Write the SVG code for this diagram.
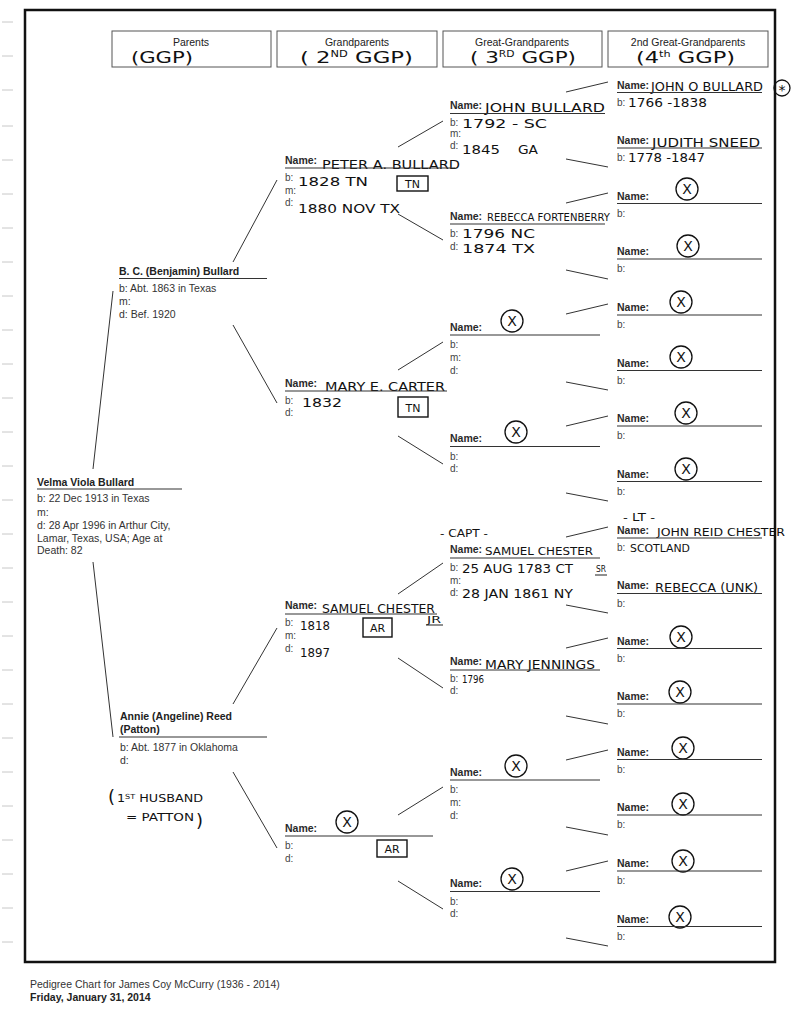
<svg xmlns="http://www.w3.org/2000/svg" width="791" height="1024" viewBox="0 0 791 1024">
<style>
text{font-family:"Liberation Sans",Arial,sans-serif}
.p{font-size:10.5px;fill:#333}
.pb{font-size:10.5px;fill:#222;font-weight:bold}
.nm{font-size:10.5px;fill:#2a2a2a;font-weight:bold}
.l{font-size:10px;fill:#444}
.hd{font-size:10.5px;fill:#222;text-anchor:middle}
.h{font-family:"DejaVu Sans","Liberation Sans",sans-serif;fill:#111}
.ln{stroke:#333;stroke-width:1.1;fill:none}
.cn{stroke:#333;stroke-width:1;fill:none}
.box{fill:#fff;stroke:#555;stroke-width:1}
.hb{fill:none;stroke:#111;stroke-width:1.4}
.cx{fill:none;stroke:#111;stroke-width:1.3}
.xm{font-family:"DejaVu Sans",sans-serif;font-size:14px;fill:#111;text-anchor:middle}
.tk{stroke:#c8c8c8;stroke-width:1}
</style>
<rect width="791" height="1024" fill="#fff"/>
<g id="margin-ticks">
<line class="tk" x1="2" y1="22" x2="13" y2="22"/><line class="tk" x1="2" y1="56" x2="13" y2="56"/><line class="tk" x1="2" y1="90" x2="13" y2="90"/><line class="tk" x1="2" y1="126" x2="13" y2="126"/><line class="tk" x1="2" y1="160" x2="13" y2="160"/><line class="tk" x1="2" y1="194" x2="13" y2="194"/><line class="tk" x1="2" y1="228" x2="13" y2="228"/><line class="tk" x1="2" y1="262" x2="13" y2="262"/><line class="tk" x1="2" y1="296" x2="13" y2="296"/><line class="tk" x1="2" y1="330" x2="13" y2="330"/><line class="tk" x1="2" y1="364" x2="13" y2="364"/><line class="tk" x1="2" y1="398" x2="13" y2="398"/><line class="tk" x1="2" y1="432" x2="13" y2="432"/><line class="tk" x1="2" y1="466" x2="13" y2="466"/><line class="tk" x1="2" y1="500" x2="13" y2="500"/><line class="tk" x1="2" y1="534" x2="13" y2="534"/><line class="tk" x1="2" y1="568" x2="13" y2="568"/><line class="tk" x1="2" y1="602" x2="13" y2="602"/><line class="tk" x1="2" y1="636" x2="13" y2="636"/><line class="tk" x1="2" y1="670" x2="13" y2="670"/><line class="tk" x1="2" y1="704" x2="13" y2="704"/><line class="tk" x1="2" y1="738" x2="13" y2="738"/><line class="tk" x1="2" y1="772" x2="13" y2="772"/><line class="tk" x1="2" y1="806" x2="13" y2="806"/><line class="tk" x1="2" y1="840" x2="13" y2="840"/><line class="tk" x1="2" y1="874" x2="13" y2="874"/><line class="tk" x1="2" y1="908" x2="13" y2="908"/><line class="tk" x1="2" y1="942" x2="13" y2="942"/>
</g>
<rect x="25" y="10" width="750" height="952" fill="none" stroke="#111" stroke-width="2.5"/>

<g id="headers">
<rect class="box" x="112" y="31" width="159" height="36"/>
<text class="hd" x="191" y="46">Parents</text>
<text class="h" x="131" y="63" font-size="16" textLength="62" lengthAdjust="spacingAndGlyphs">(GGP)</text>
<rect class="box" x="277" y="31" width="160" height="36"/>
<text class="hd" x="357" y="46">Grandparents</text>
<text class="h" x="300" y="63" font-size="16" textLength="113" lengthAdjust="spacingAndGlyphs">( 2<tspan font-size="8" dy="-6">ND</tspan><tspan dy="6"> GGP)</tspan></text>
<rect class="box" x="443" y="31" width="159" height="36"/>
<text class="hd" x="522" y="46">Great-Grandparents</text>
<text class="h" x="470" y="63" font-size="16" textLength="106" lengthAdjust="spacingAndGlyphs">( 3<tspan font-size="8" dy="-6">RD</tspan><tspan dy="6"> GGP)</tspan></text>
<rect class="box" x="608" y="31" width="160" height="36"/>
<text class="hd" x="688" y="46">2nd Great-Grandparents</text>
<text class="h" x="636" y="63" font-size="16" textLength="99" lengthAdjust="spacingAndGlyphs">(4<tspan font-size="8" dy="-6">th</tspan><tspan dy="6"> GGP)</tspan></text>
</g>

<g id="connectors">
<line class="cn" x1="93" y1="469" x2="113" y2="291"/>
<line class="cn" x1="93" y1="562" x2="113" y2="737"/>
<line class="cn" x1="233" y1="262" x2="277" y2="180"/>
<line class="cn" x1="233" y1="325" x2="277" y2="403"/>
<line class="cn" x1="233" y1="704" x2="277" y2="628"/>
<line class="cn" x1="233" y1="772" x2="277" y2="848"/>
<line class="cn" x1="398" y1="147" x2="443" y2="121"/>
<line class="cn" x1="398" y1="214" x2="443" y2="240"/>
<line class="cn" x1="398" y1="370" x2="443" y2="342"/>
<line class="cn" x1="398" y1="436" x2="443" y2="464"/>
<line class="cn" x1="398" y1="594" x2="443" y2="563"/>
<line class="cn" x1="398" y1="658" x2="443" y2="688"/>
<line class="cn" x1="398" y1="815" x2="443" y2="787"/>
<line class="cn" x1="398" y1="881" x2="443" y2="909"/>
<line class="cn" x1="566" y1="92" x2="608" y2="82"/>
<line class="cn" x1="566" y1="159" x2="608" y2="167"/>
<line class="cn" x1="566" y1="203" x2="608" y2="193"/>
<line class="cn" x1="566" y1="270" x2="608" y2="279"/>
<line class="cn" x1="566" y1="314" x2="608" y2="304"/>
<line class="cn" x1="566" y1="382" x2="608" y2="390"/>
<line class="cn" x1="566" y1="426" x2="608" y2="416"/>
<line class="cn" x1="566" y1="493" x2="608" y2="501"/>
<line class="cn" x1="566" y1="537" x2="608" y2="527"/>
<line class="cn" x1="566" y1="605" x2="608" y2="613"/>
<line class="cn" x1="566" y1="648" x2="608" y2="638"/>
<line class="cn" x1="566" y1="716" x2="608" y2="724"/>
<line class="cn" x1="566" y1="760" x2="608" y2="750"/>
<line class="cn" x1="566" y1="827" x2="608" y2="835"/>
<line class="cn" x1="566" y1="871" x2="608" y2="861"/>
<line class="cn" x1="566" y1="938" x2="608" y2="946"/>
</g>

<g id="velma">
<text class="pb" x="37" y="486">Velma Viola Bullard</text>
<line class="ln" x1="37" y1="489" x2="182" y2="489"/>
<text class="p" x="37" y="502">b: 22 Dec 1913 in Texas</text>
<text class="p" x="37" y="515.5">m:</text>
<text class="p" x="37" y="529">d: 28 Apr 1996 in Arthur City,</text>
<text class="p" x="37" y="541.5">Lamar, Texas, USA; Age at</text>
<text class="p" x="37" y="554">Death: 82</text>
</g>

<g id="bc-bullard">
<text class="pb" x="119" y="275">B. C. (Benjamin) Bullard</text>
<line class="ln" x1="119" y1="278.5" x2="267" y2="278.5"/>
<text class="p" x="119" y="292">b: Abt. 1863 in Texas</text>
<text class="p" x="119" y="305">m:</text>
<text class="p" x="119" y="318">d: Bef. 1920</text>
</g>

<g id="annie-reed">
<text class="pb" x="120" y="720">Annie (Angeline) Reed</text>
<text class="pb" x="120" y="733">(Patton)</text>
<line class="ln" x1="119" y1="737" x2="267" y2="737"/>
<text class="p" x="120" y="751">b: Abt. 1877 in Oklahoma</text>
<text class="p" x="120" y="764" fill="#2f5d6a">d:</text>
<text class="h" x="108" y="803" font-size="18">(</text>
<text class="h" x="117" y="802" font-size="11" textLength="86" lengthAdjust="spacingAndGlyphs">1<tspan font-size="7" dy="-3">ST</tspan><tspan dy="3"> HUSBAND</tspan></text>
<text class="h" x="126" y="821" font-size="11" textLength="68" lengthAdjust="spacingAndGlyphs">= PATTON</text>
<text class="h" x="196" y="827" font-size="18">)</text>
</g>

<g id="peter-bullard">
<text class="nm" x="285" y="163.5">Name:</text>
<text class="h" x="322" y="169" font-size="13" textLength="138" lengthAdjust="spacingAndGlyphs">PETER A. BULLARD</text>
<line class="ln" x1="285" y1="168" x2="455" y2="168"/>
<text class="l" x="285" y="181">b:</text>
<text class="h" x="298" y="186" font-size="13" textLength="70" lengthAdjust="spacingAndGlyphs">1828  TN</text>
<rect class="hb" x="397" y="176" width="31" height="15"/>
<text class="h" x="412.5" y="188" font-size="11" text-anchor="middle">TN</text>
<text class="l" x="285" y="194">m:</text>
<text class="l" x="285" y="206">d:</text>
<text class="h" x="298" y="213" font-size="13" textLength="102" lengthAdjust="spacingAndGlyphs">1880 NOV TX</text>
</g>

<g id="mary-carter">
<text class="nm" x="285" y="386.5">Name:</text>
<text class="h" x="325" y="391" font-size="13" textLength="120" lengthAdjust="spacingAndGlyphs">MARY E. CARTER</text>
<line class="ln" x1="285" y1="391" x2="447" y2="391"/>
<text class="l" x="285" y="404">b:</text>
<text class="h" x="302" y="407" font-size="13" textLength="40" lengthAdjust="spacingAndGlyphs">1832</text>
<rect class="hb" x="398" y="397" width="30" height="20"/>
<text class="h" x="413" y="411.5" font-size="11" text-anchor="middle">TN</text>
<text class="l" x="285" y="416">d:</text>
</g>

<g id="samuel-chester-jr">
<text class="nm" x="285" y="609">Name:</text>
<text class="h" x="322" y="612.5" font-size="12" textLength="113" lengthAdjust="spacingAndGlyphs">SAMUEL CHESTER</text>
<line class="ln" x1="285" y1="614" x2="437" y2="614"/>
<text class="h" x="427" y="623" font-size="8" textLength="14" lengthAdjust="spacingAndGlyphs">JR</text>
<line class="ln" x1="426" y1="625" x2="443" y2="625"/>
<text class="l" x="285" y="626">b:</text>
<text class="h" x="300" y="630" font-size="13" textLength="30" lengthAdjust="spacingAndGlyphs">1818</text>
<rect class="hb" x="363" y="618" width="29" height="19"/>
<text class="h" x="377.5" y="632" font-size="11" text-anchor="middle">AR</text>
<text class="l" x="285" y="639">m:</text>
<text class="l" x="285" y="652">d:</text>
<text class="h" x="300" y="657" font-size="13" textLength="30" lengthAdjust="spacingAndGlyphs">1897</text>
</g>

<g id="unknown-gm">
<text class="nm" x="285" y="831.5">Name:</text>
<circle class="cx" cx="347" cy="822" r="11"/>
<text class="xm" x="347" y="827">X</text>
<line class="ln" x1="285" y1="836" x2="433" y2="836"/>
<rect class="hb" x="377" y="840" width="30" height="17"/>
<text class="h" x="392" y="852.5" font-size="11" text-anchor="middle">AR</text>
<text class="l" x="285" y="849">b:</text>
<text class="l" x="285" y="862">d:</text>
</g>

<g id="john-bullard">
<text class="nm" x="450" y="108.5">Name:</text>
<text class="h" x="485" y="112" font-size="13" textLength="120" lengthAdjust="spacingAndGlyphs">JOHN BULLARD</text>
<line class="ln" x1="450" y1="113.5" x2="605" y2="113.5"/>
<text class="l" x="450" y="126">b:</text>
<text class="h" x="462" y="128" font-size="13" textLength="85" lengthAdjust="spacingAndGlyphs">1792 -  SC</text>
<text class="l" x="450" y="137">m:</text>
<text class="l" x="450" y="149">d:</text>
<text class="h" x="462" y="154" font-size="13" textLength="38" lengthAdjust="spacingAndGlyphs">1845</text>
<text class="h" x="518" y="154" font-size="13" textLength="20" lengthAdjust="spacingAndGlyphs">GA</text>
</g>

<g id="rebecca-fortenberry">
<text class="nm" x="450" y="219.5">Name:</text>
<text class="h" x="487" y="221" font-size="10" textLength="123" lengthAdjust="spacingAndGlyphs">REBECCA FORTENBERRY</text>
<line class="ln" x1="450" y1="224" x2="605" y2="224"/>
<text class="l" x="450" y="237">b:</text>
<text class="h" x="462" y="238" font-size="12" textLength="73" lengthAdjust="spacingAndGlyphs">1796  NC</text>
<text class="l" x="450" y="250">d:</text>
<text class="h" x="462" y="253" font-size="12" textLength="73" lengthAdjust="spacingAndGlyphs">1874  TX</text>
</g>

<g id="ggp-unknown-3">
<text class="nm" x="450" y="331">Name:</text>
<circle class="cx" cx="512" cy="321" r="11"/>
<text class="xm" x="512" y="326">X</text>
<line class="ln" x1="450" y1="335" x2="600" y2="335"/>
<text class="l" x="450" y="348">b:</text>
<text class="l" x="450" y="361">m:</text>
<text class="l" x="450" y="374">d:</text>
</g>

<g id="ggp-unknown-4">
<text class="nm" x="450" y="442">Name:</text>
<circle class="cx" cx="516" cy="432" r="11"/>
<text class="xm" x="516" y="437">X</text>
<line class="ln" x1="450" y1="446.5" x2="600" y2="446.5"/>
<text class="l" x="450" y="460">b:</text>
<text class="l" x="450" y="472">d:</text>
</g>

<g id="samuel-chester-sr">
<text class="h" x="440" y="537" font-size="11" textLength="48" lengthAdjust="spacingAndGlyphs">- CAPT -</text>
<text class="nm" x="450" y="553">Name:</text>
<text class="h" x="485" y="555" font-size="11" textLength="108" lengthAdjust="spacingAndGlyphs">SAMUEL CHESTER</text>
<line class="ln" x1="450" y1="558" x2="600" y2="558"/>
<text class="l" x="450" y="571">b:</text>
<text class="h" x="462" y="573" font-size="12" textLength="111" lengthAdjust="spacingAndGlyphs">25 AUG 1783  CT</text>
<text class="h" x="596" y="572" font-size="9" textLength="10" lengthAdjust="spacingAndGlyphs">SR</text>
<line class="ln" x1="595" y1="575" x2="607" y2="575"/>
<text class="l" x="450" y="584">m:</text>
<text class="l" x="450" y="596">d:</text>
<text class="h" x="462" y="598" font-size="12" textLength="111" lengthAdjust="spacingAndGlyphs">28 JAN 1861  NY</text>
</g>

<g id="mary-jennings">
<text class="nm" x="450" y="665">Name:</text>
<text class="h" x="485" y="669" font-size="12" textLength="110" lengthAdjust="spacingAndGlyphs">MARY JENNINGS</text>
<line class="ln" x1="450" y1="670" x2="600" y2="670" stroke="#4a6a3a"/>
<text class="l" x="450" y="682">b:</text>
<text class="h" x="462" y="683" font-size="11" textLength="22" lengthAdjust="spacingAndGlyphs">1796</text>
<text class="l" x="450" y="694">d:</text>
</g>

<g id="ggp-unknown-7">
<text class="nm" x="450" y="776">Name:</text>
<circle class="cx" cx="516" cy="766" r="11"/>
<text class="xm" x="516" y="771">X</text>
<line class="ln" x1="450" y1="780" x2="600" y2="780"/>
<text class="l" x="450" y="793">b:</text>
<text class="l" x="450" y="806">m:</text>
<text class="l" x="450" y="819">d:</text>
</g>

<g id="ggp-unknown-8">
<text class="nm" x="450" y="887">Name:</text>
<circle class="cx" cx="512" cy="879" r="11"/>
<text class="xm" x="512" y="884">X</text>
<line class="ln" x1="450" y1="891.5" x2="600" y2="891.5"/>
<text class="l" x="450" y="905">b:</text>
<text class="l" x="450" y="917">d:</text>
</g>

<g id="john-o-bullard">
<text class="nm" x="617" y="88.5">Name:</text>
<text class="h" x="651" y="91" font-size="12" textLength="112" lengthAdjust="spacingAndGlyphs">JOHN O BULLARD</text>
<line class="ln" x1="617" y1="92.5" x2="762" y2="92.5"/>
<text class="l" x="617" y="105.5">b:</text>
<text class="h" x="628" y="107" font-size="12" textLength="79" lengthAdjust="spacingAndGlyphs">1766 -1838</text>
<circle class="cx" cx="782" cy="88" r="8"/>
<text class="xm" x="782" y="95" font-size="15">*</text>
</g>

<g id="judith-sneed">
<text class="nm" x="617" y="144">Name:</text>
<text class="h" x="652" y="147" font-size="12" textLength="108" lengthAdjust="spacingAndGlyphs">JUDITH SNEED</text>
<line class="ln" x1="617" y1="148" x2="762" y2="148"/>
<text class="l" x="617" y="161">b:</text>
<text class="h" x="628" y="162" font-size="12" textLength="77" lengthAdjust="spacingAndGlyphs">1778 -1847</text>
</g>

<g id="g2-3"><text class="nm" x="617" y="199.5">Name:</text><circle class="cx" cx="687" cy="189" r="11"/><text class="xm" x="687" y="194">X</text><line class="ln" x1="617" y1="203.5" x2="762" y2="203.5"/><text class="l" x="617" y="216.5">b:</text></g>
<g id="g2-4"><text class="nm" x="617" y="255">Name:</text><circle class="cx" cx="688" cy="246" r="11"/><text class="xm" x="688" y="251">X</text><line class="ln" x1="617" y1="259" x2="762" y2="259"/><text class="l" x="617" y="272">b:</text></g>
<g id="g2-5"><text class="nm" x="617" y="311">Name:</text><circle class="cx" cx="681" cy="302" r="11"/><text class="xm" x="681" y="307">X</text><line class="ln" x1="617" y1="315" x2="762" y2="315"/><text class="l" x="617" y="328">b:</text></g>
<g id="g2-6"><text class="nm" x="617" y="366.5">Name:</text><circle class="cx" cx="681" cy="357" r="11"/><text class="xm" x="681" y="362">X</text><line class="ln" x1="617" y1="370.5" x2="762" y2="370.5"/><text class="l" x="617" y="383.5">b:</text></g>
<g id="g2-7"><text class="nm" x="617" y="422">Name:</text><circle class="cx" cx="686" cy="413" r="11"/><text class="xm" x="686" y="418">X</text><line class="ln" x1="617" y1="426" x2="762" y2="426"/><text class="l" x="617" y="439">b:</text></g>
<g id="g2-8"><text class="nm" x="617" y="477.5">Name:</text><circle class="cx" cx="686" cy="469" r="11"/><text class="xm" x="686" y="474">X</text><line class="ln" x1="617" y1="481.5" x2="762" y2="481.5"/><text class="l" x="617" y="494.5">b:</text></g>

<g id="john-reid-chester">
<text class="h" x="623" y="521" font-size="10" textLength="32" lengthAdjust="spacingAndGlyphs">- LT -</text>
<text class="nm" x="617" y="533.5">Name:</text>
<text class="h" x="657" y="536" font-size="11" textLength="128" lengthAdjust="spacingAndGlyphs">JOHN REID CHESTER</text>
<line class="ln" x1="617" y1="538" x2="762" y2="538"/>
<text class="l" x="617" y="551">b:</text>
<text class="h" x="630" y="552" font-size="10" textLength="60" lengthAdjust="spacingAndGlyphs">SCOTLAND</text>
</g>

<g id="rebecca-unk">
<text class="nm" x="617" y="589">Name:</text>
<text class="h" x="655" y="592" font-size="12" textLength="103" lengthAdjust="spacingAndGlyphs">REBECCA (UNK)</text>
<line class="ln" x1="617" y1="593.5" x2="762" y2="593.5"/>
<text class="l" x="617" y="606.5">b:</text>
</g>

<g id="g2-11"><text class="nm" x="617" y="644.5">Name:</text><circle class="cx" cx="681" cy="637" r="11"/><text class="xm" x="681" y="642">X</text><line class="ln" x1="617" y1="648.5" x2="762" y2="648.5"/><text class="l" x="617" y="661.5">b:</text></g>
<g id="g2-12"><text class="nm" x="617" y="700">Name:</text><circle class="cx" cx="680" cy="692" r="11"/><text class="xm" x="680" y="697">X</text><line class="ln" x1="617" y1="704" x2="762" y2="704"/><text class="l" x="617" y="717">b:</text></g>
<g id="g2-13"><text class="nm" x="617" y="755.5">Name:</text><circle class="cx" cx="683" cy="748" r="11"/><text class="xm" x="683" y="753">X</text><line class="ln" x1="617" y1="759.5" x2="762" y2="759.5"/><text class="l" x="617" y="772.5">b:</text></g>
<g id="g2-14"><text class="nm" x="617" y="811">Name:</text><circle class="cx" cx="683" cy="804" r="11"/><text class="xm" x="683" y="809">X</text><line class="ln" x1="617" y1="815" x2="762" y2="815"/><text class="l" x="617" y="828">b:</text></g>
<g id="g2-15"><text class="nm" x="617" y="867">Name:</text><circle class="cx" cx="683" cy="861" r="11"/><text class="xm" x="683" y="866">X</text><line class="ln" x1="617" y1="871" x2="762" y2="871"/><text class="l" x="617" y="884">b:</text></g>
<g id="g2-16"><text class="nm" x="617" y="922.5">Name:</text><circle class="cx" cx="680" cy="917" r="11"/><text class="xm" x="680" y="922">X</text><line class="ln" x1="617" y1="926.5" x2="762" y2="926.5"/><text class="l" x="617" y="939.5">b:</text></g>

<g id="footer">
<text class="p" x="30" y="988" font-size="10">Pedigree Chart for James Coy McCurry (1936 - 2014)</text>
<text class="pb" x="30" y="1001" font-size="10">Friday, January 31, 2014</text>
</g>
</svg>
